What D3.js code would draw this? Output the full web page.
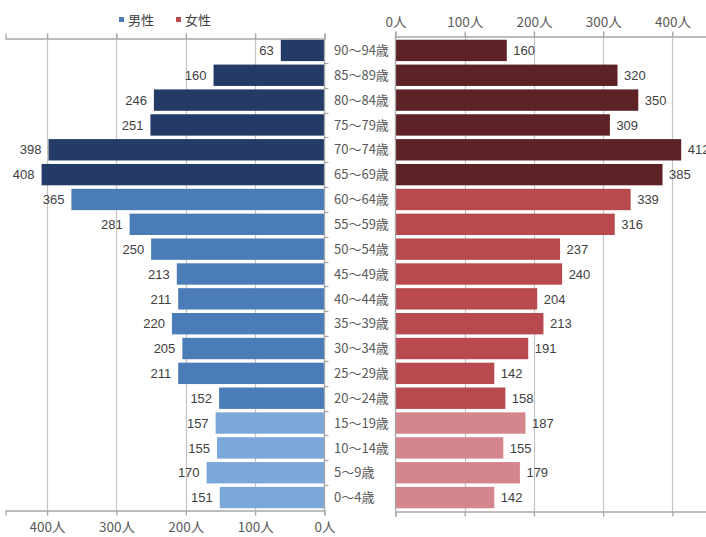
<!DOCTYPE html>
<html>
<head>
<meta charset="utf-8">
<script src="https://cdn.jsdelivr.net/npm/d3@7"></script>
<style>
  body { margin: 0; background: #fff; }
  svg { display: block; }
  .axis path, .axis line { stroke: #a6a6a6; stroke-width: 1.3; }
  .axis text { fill: #595959; font-family: "Noto Sans CJK JP", sans-serif; font-size: 13.5px; }
  .grid line { stroke: #c4c4c4; stroke-width: 1.2; }
  .val { fill: #404040; font-family: "Liberation Sans", Arial, sans-serif; font-size: 13px; }
  .age { fill: #595959; font-family: "Noto Sans CJK JP", sans-serif; font-size: 13px; }
  .legend text { fill: #404040; font-family: "Noto Sans CJK JP", sans-serif; font-size: 13px; }
</style>
</head>
<body>
<svg id="chart" width="706" height="537"></svg>
<script>
// age bands, top to bottom
var ages = ["90〜94歳", "85〜89歳", "80〜84歳", "75〜79歳", "70〜74歳", "65〜69歳",
            "60〜64歳", "55〜59歳", "50〜54歳", "45〜49歳", "40〜44歳", "35〜39歳",
            "30〜34歳", "25〜29歳", "20〜24歳", "15〜19歳", "10〜14歳", "5〜9歳", "0〜4歳"];
var male   = [63, 160, 246, 251, 398, 408, 365, 281, 250, 213, 211, 220, 205, 211, 152, 157, 155, 170, 151];
var female = [160, 320, 350, 309, 412, 385, 339, 316, 237, 240, 204, 213, 191, 142, 158, 187, 155, 179, 142];
var ticks  = [0, 100, 200, 300, 400];
var series = ["男性", "女性"];

var svg = d3.select("#chart");

var plotTop = 38, plotBottom = 510;
var xL = d3.scaleLinear().domain([0, 460]).range([324.5, 5.5]);
var xR = d3.scaleLinear().domain([0, 450]).range([395.5, 707]);
var y = d3.scaleBand().domain(ages).range([plotTop, plotBottom]).paddingInner(0.14).paddingOuter(0.07);

// shades: 65+ dark, 20-64 mid, 0-19 light
var maleCol   = ["#243a67", "#4a7cb8", "#7ba8d8"];
var femaleCol = ["#5c2225", "#b8494f", "#d4868c"];
function shade(i) { return i < 6 ? 0 : (i < 15 ? 1 : 2); }

// gridlines
svg.append("g").attr("class", "grid")
  .selectAll("line").data(ticks.slice(1)).enter().append("line")
    .attr("x1", function(d) { return Math.round(xL(d)) + 0.5; })
    .attr("x2", function(d) { return Math.round(xL(d)) + 0.5; })
    .attr("y1", plotTop - 5).attr("y2", plotBottom);
svg.append("g").attr("class", "grid")
  .selectAll("line").data(ticks.slice(1)).enter().append("line")
    .attr("x1", function(d) { return Math.round(xR(d)) + 0.5; })
    .attr("x2", function(d) { return Math.round(xR(d)) + 0.5; })
    .attr("y1", plotTop - 5).attr("y2", plotBottom + 1);

// bars
svg.append("g").selectAll("rect").data(male).enter().append("rect")
  .attr("x", function(d) { return xL(d); })
  .attr("y", function(d, i) { return y(ages[i]); })
  .attr("width", function(d) { return xL(0) - xL(d); })
  .attr("height", y.bandwidth())
  .attr("fill", function(d, i) { return maleCol[shade(i)]; });

svg.append("g").selectAll("rect").data(female).enter().append("rect")
  .attr("x", xR(0) + 0.5)
  .attr("y", function(d, i) { return y(ages[i]); })
  .attr("width", function(d) { return xR(d) - xR(0); })
  .attr("height", y.bandwidth())
  .attr("fill", function(d, i) { return femaleCol[shade(i)]; });

// value labels
svg.append("g").selectAll("text").data(male).enter().append("text")
  .attr("class", "val")
  .attr("x", function(d) { return xL(d) - 7; })
  .attr("y", function(d, i) { return y(ages[i]) + y.bandwidth() / 2; })
  .attr("dy", "0.36em")
  .attr("text-anchor", "end")
  .text(function(d) { return d; });

svg.append("g").selectAll("text").data(female).enter().append("text")
  .attr("class", "val")
  .attr("x", function(d) { return xR(d) + 7; })
  .attr("y", function(d, i) { return y(ages[i]) + y.bandwidth() / 2; })
  .attr("dy", "0.36em")
  .text(function(d) { return d; });

// age labels in the middle
svg.append("g").selectAll("text").data(ages).enter().append("text")
  .attr("class", "age")
  .attr("x", 334)
  .attr("y", function(d) { return y(d) + y.bandwidth() / 2; })
  .attr("dy", "0.36em")
  .text(function(d) { return d; });

// axes
var fmt = function(d) { return d + "人"; };

svg.append("g").attr("class", "axis")
  .attr("transform", "translate(0," + (plotBottom + 0.5) + ")")
  .call(d3.axisBottom(xL).tickValues(ticks).tickFormat(fmt).tickSizeOuter(0).tickSize(5).tickPadding(7));

svg.append("g").attr("class", "axis")
  .attr("transform", "translate(0," + (plotTop + 0.5) + ")")
  .call(d3.axisTop(xL).tickValues(ticks).tickFormat("").tickSizeOuter(0).tickSize(5));

svg.append("g").attr("class", "axis")
  .attr("transform", "translate(0," + (plotTop - 2 + 0.5) + ")")
  .call(d3.axisTop(xR).tickValues(ticks).tickFormat(fmt).tickSizeOuter(0).tickSize(5).tickPadding(5));

svg.append("g").attr("class", "axis")
  .attr("transform", "translate(0," + (plotBottom + 1.5) + ")")
  .call(d3.axisBottom(xR).tickValues(ticks).tickFormat("").tickSizeOuter(0).tickSize(5));

// category axes: left side with ticks between bands, right side plain line
var bounds = ages.map(function(d) { return y(d) - y.step() * y.paddingInner() / 2; }).slice(1);
var cat = svg.append("g").attr("class", "axis");
cat.append("line")
  .attr("x1", xL(0)).attr("x2", xL(0)).attr("y1", plotTop).attr("y2", plotBottom);
cat.selectAll(".ct").data(bounds).enter().append("line")
  .attr("class", "ct")
  .attr("x1", xL(0)).attr("x2", xL(0) + 4)
  .attr("y1", function(d) { return Math.round(d) + 0.5; })
  .attr("y2", function(d) { return Math.round(d) + 0.5; });
cat.append("line")
  .attr("x1", xR(0)).attr("x2", xR(0)).attr("y1", plotTop - 2).attr("y2", plotBottom + 1);

// legend
var leg = svg.append("g").attr("class", "legend");
var legX = [119, 176], legCol = [maleCol[1], femaleCol[1]];
series.forEach(function(s, i) {
  leg.append("rect").attr("x", legX[i]).attr("y", 17).attr("width", 5).attr("height", 5).attr("fill", legCol[i]);
  leg.append("text").attr("x", legX[i] + 9).attr("y", 20).attr("dy", "0.36em").text(s);
});
</script>
</body>
</html>
